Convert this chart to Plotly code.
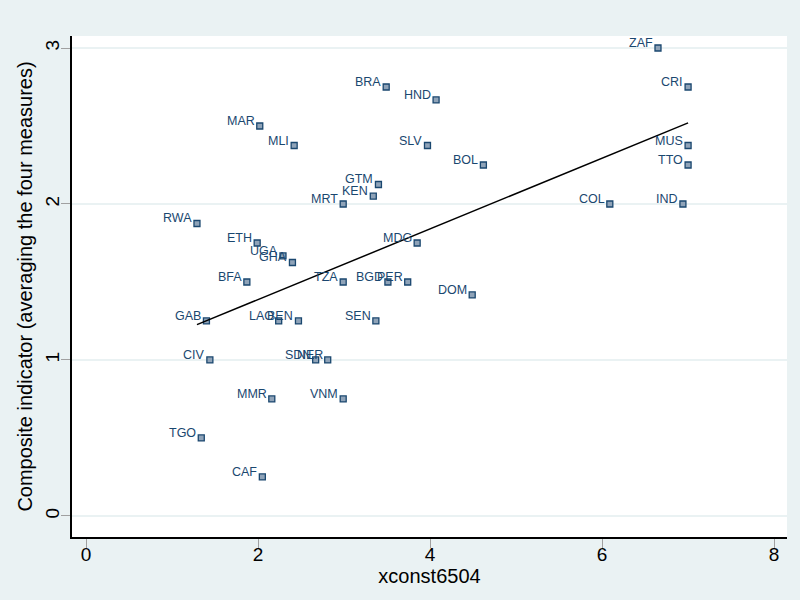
import numpy as np
import plotly.graph_objects as go

# country codes and values
countries = [
    "ZAF", "BRA", "HND", "MAR", "MLI", "SLV", "BOL", "CRI", "MUS", "TTO",
    "GTM", "KEN", "MRT", "COL", "IND", "RWA", "ETH", "MDG", "UGA", "GHA",
    "BFA", "TZA", "BGD", "PER", "DOM", "GAB", "LAO", "BEN", "SEN", "CIV",
    "SDN", "NER", "MMR", "VNM", "TGO", "CAF",
]
xconst6504 = [
    6.65, 3.49, 4.07, 2.02, 2.42, 3.97, 4.62, 7.0, 7.0, 7.0,
    3.40, 3.34, 2.99, 6.09, 6.94, 1.29, 1.99, 3.85, 2.29, 2.40,
    1.87, 2.99, 3.51, 3.74, 4.49, 1.40, 2.24, 2.47, 3.37, 1.44,
    2.67, 2.81, 2.16, 2.99, 1.34, 2.05,
]
composite = [
    3.0, 2.75, 2.667, 2.5, 2.375, 2.375, 2.25, 2.75, 2.375, 2.25,
    2.125, 2.05, 2.0, 2.0, 2.0, 1.875, 1.75, 1.75, 1.667, 1.625,
    1.5, 1.5, 1.5, 1.5, 1.417, 1.25, 1.25, 1.25, 1.25, 1.0,
    1.0, 1.0, 0.75, 0.75, 0.5, 0.25,
]

NAVY = "#1A476F"
BG = "#EAF2F3"
FONT = "Liberation Sans, Arial, sans-serif"

x = np.array(xconst6504)
y = np.array(composite)
slope, intercept = np.polyfit(x, y, 1)
fit_x = np.array([x.min(), x.max()])
fit_y = intercept + slope * fit_x

fig = go.Figure()

fig.add_trace(
    go.Scatter(
        x=xconst6504,
        y=composite,
        mode="markers",
        marker=dict(
            symbol="square",
            size=6,
            color="#8FA3B8",
            line=dict(color=NAVY, width=1.3),
        ),
        cliponaxis=False,
        showlegend=False,
    )
)

fig.add_trace(
    go.Scatter(
        x=fit_x,
        y=fit_y,
        mode="lines",
        line=dict(color="black", width=1.5),
        showlegend=False,
    )
)

# marker labels sit just left of each point, Stata style
for name, xv, yv in zip(countries, xconst6504, composite):
    fig.add_annotation(
        x=xv,
        y=yv,
        text=name,
        showarrow=False,
        xanchor="right",
        yanchor="middle",
        xshift=-3,
        yshift=5,
        font=dict(family=FONT, size=12.5, color=NAVY),
    )

fig.update_layout(
    width=800,
    height=600,
    paper_bgcolor=BG,
    plot_bgcolor="white",
    margin=dict(l=72, r=13, t=36, b=63),
    font=dict(family=FONT, color="black"),
    xaxis=dict(
        range=[-0.163, 8.15],
        tickvals=[0, 2, 4, 6, 8],
        showgrid=False,
        zeroline=False,
        showline=True,
        linecolor="black",
        linewidth=1.5,
        ticks="outside",
        ticklen=9,
        tickcolor="#A0A0A0",
        tickfont=dict(size=19),
        ticklabelstandoff=-10,
        automargin=False,
        title=dict(text="xconst6504", font=dict(size=20), standoff=4),
    ),
    yaxis=dict(
        range=[-0.135, 3.077],
        tickvals=[0, 1, 2, 3],
        tickangle=-90,
        showgrid=True,
        gridcolor=BG,
        gridwidth=1.5,
        zeroline=False,
        showline=True,
        linecolor="black",
        linewidth=1.5,
        ticks="outside",
        ticklen=9,
        tickcolor="#A0A0A0",
        tickfont=dict(size=19),
        ticklabelstandoff=-5,
        automargin=False,
        title=dict(
            text="Composite indicator (averaging the four measures)",
            font=dict(size=20),
            standoff=4,
        ),
    ),
)

# the page body has a default 8px margin; drop it so the figure fills the window
fig.write_html(
    "out.html",
    config={"displayModeBar": False},
    post_script="document.body.style.margin='0';",
)
